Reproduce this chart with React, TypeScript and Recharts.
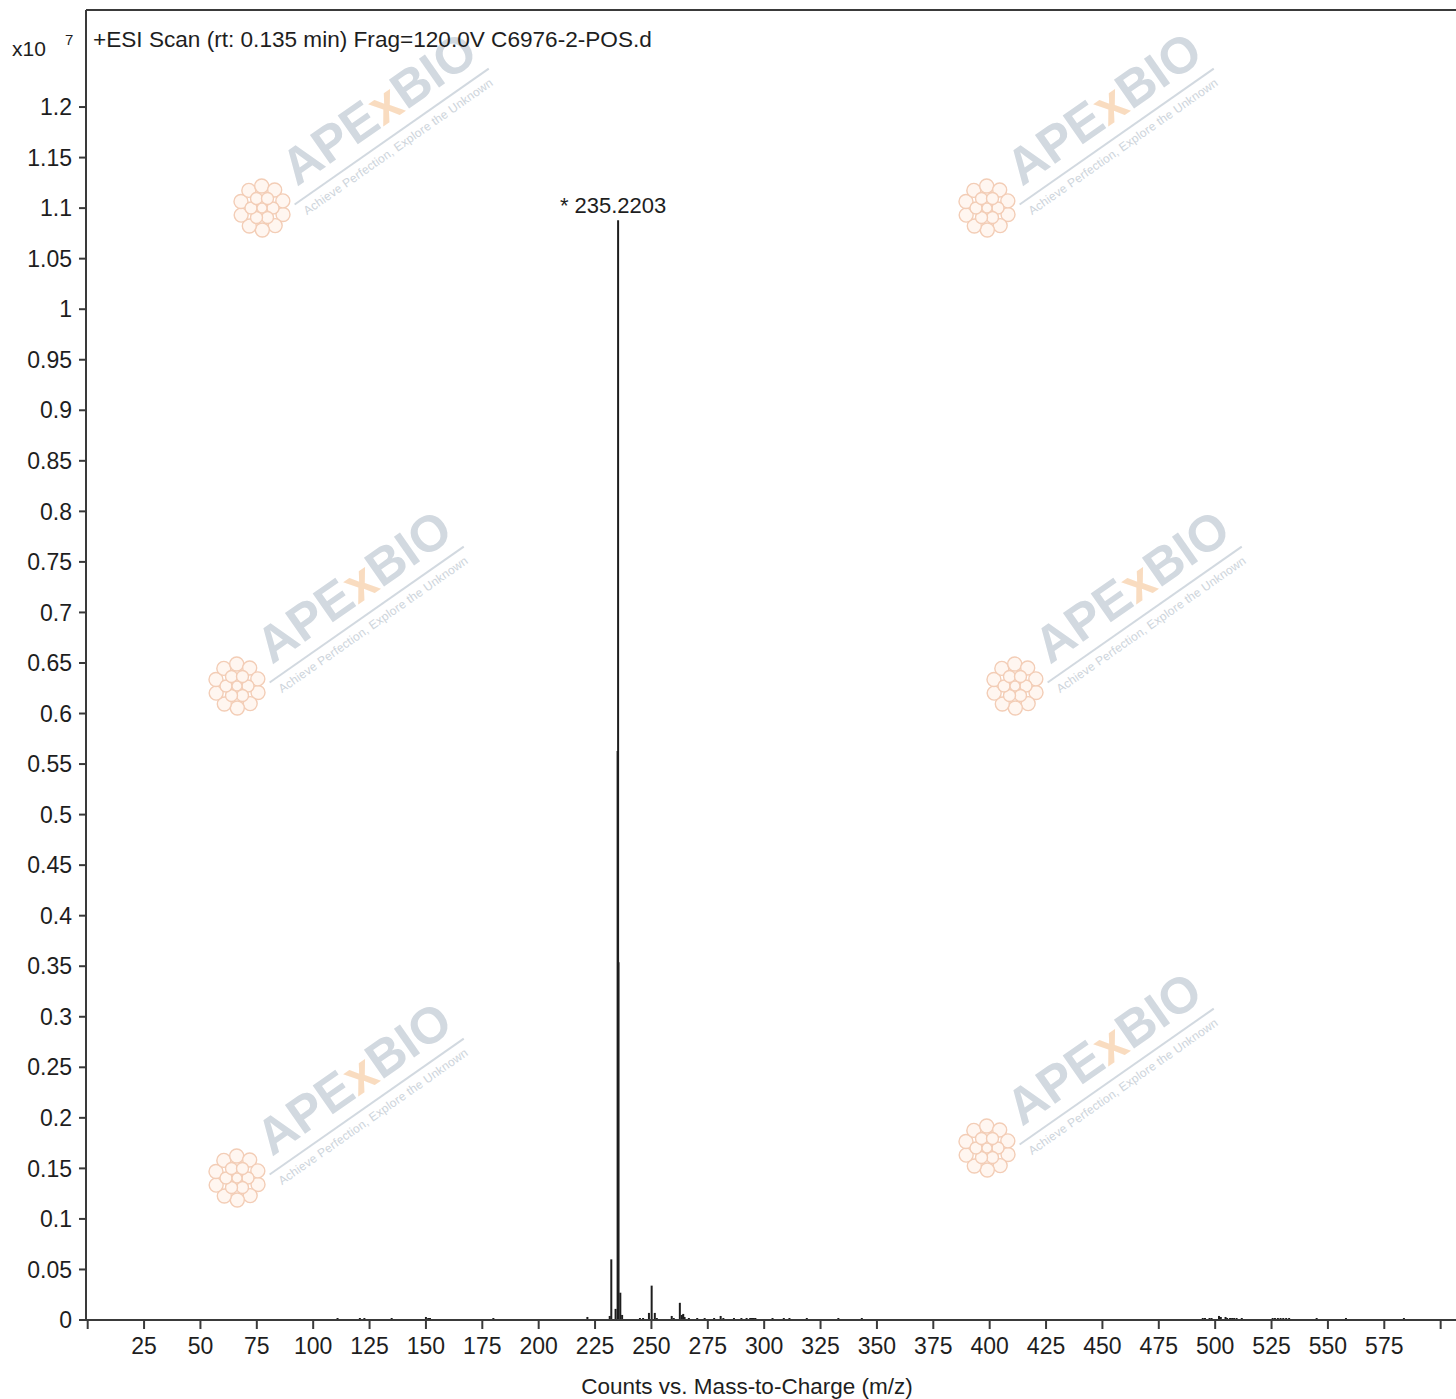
import React from 'react';
import {
  ComposedChart,
  Scatter,
  ErrorBar,
  XAxis,
  YAxis,
  ReferenceLine,
  ReferenceDot,
} from 'recharts';

// m/z of each centroid, and its counts (x10^7)
const mzValues = [
  110.8, 120.7, 122.7, 134.8, 150.0, 151.0, 151.8, 179.9, 221.6, 231.5,
  232.2, 234.1, 235.0, 235.2203, 235.4, 236.2, 237.0, 244.9, 246.3, 248.9,
  250.1, 251.5, 252.4, 259.0, 259.9, 262.6, 263.5, 264.1, 264.7, 266.6,
  270.3, 273.6, 277.8, 280.7, 281.9, 286.6, 289.9, 292.2, 293.8, 294.6,
  295.4, 296.1, 303.7, 308.7, 311.2, 318.9, 332.9, 343.3, 494.5, 495.5,
  497.5, 498.4, 501.7, 502.5, 504.6, 505.3, 506.6, 507.5, 508.4, 509.5,
  511.8, 525.5, 526.5, 527.8, 529.0, 530.2, 531.5, 532.8, 545.0, 558.0,
  583.7,
];
const countValues = [
  0.002, 0.002, 0.002, 0.002, 0.003, 0.002, 0.002, 0.002, 0.003, 0.004,
  0.060, 0.011, 0.563, 1.088, 0.354, 0.027, 0.005, 0.002, 0.002, 0.007,
  0.034, 0.007, 0.002, 0.004, 0.002, 0.017, 0.005, 0.006, 0.003, 0.002,
  0.002, 0.002, 0.002, 0.004, 0.002, 0.002, 0.002, 0.002, 0.002, 0.002,
  0.002, 0.002, 0.002, 0.002, 0.002, 0.002, 0.002, 0.002, 0.002, 0.002,
  0.002, 0.002, 0.004, 0.003, 0.003, 0.002, 0.002, 0.002, 0.002, 0.002,
  0.002, 0.002, 0.002, 0.002, 0.002, 0.002, 0.002, 0.002, 0.002, 0.002,
  0.002,
];

const xTicks = [
  0, 25, 50, 75, 100, 125, 150, 175, 200, 225, 250, 275, 300, 325, 350,
  375, 400, 425, 450, 475, 500, 525, 550, 575, 600,
];
const yTicks = [
  0, 0.05, 0.1, 0.15, 0.2, 0.25, 0.3, 0.35, 0.4, 0.45, 0.5, 0.55, 0.6,
  0.65, 0.7, 0.75, 0.8, 0.85, 0.9, 0.95, 1, 1.05, 1.1, 1.15, 1.2,
];

const basePeak = { mz: 235.2203, label: '* 235.2203' };
const title = '+ESI Scan (rt: 0.135 min) Frag=120.0V C6976-2-POS.d';
const xLabel = 'Counts vs. Mass-to-Charge (m/z)';

const X_DOMAIN: [number, number] = [-0.75, 606.8];
const Y_DOMAIN: [number, number] = [0, 1.296];

const FONT = '"Liberation Sans", Arial, sans-serif';
const INK = '#1e1e1e';
const FRAME = '#3a3a3a';

const spectrum = mzValues.map((mz, i) => ({
  mz,
  counts: countValues[i],
  drop: [countValues[i], 0],
}));

const noPoint = () => <g />;

// watermark placement (start of the "APExBIO" baseline)
const marks = [
  [297, 187],
  [1022, 187],
  [272, 665],
  [1050, 665],
  [272, 1157],
  [1022, 1127],
];

const Logo = ({ cx, cy }: { cx: number; cy: number }) => {
  const ring1 = [0, 1, 2, 3, 4, 5].map((k) => (k * Math.PI) / 3);
  const ring2 = [0, 1, 2, 3, 4, 5, 6, 7, 8, 9].map((k) => (k * Math.PI) / 5 + 0.3);
  return (
    <g stroke="#f3cdb6" strokeWidth={1.4} fill="#fff6f0">
      {ring2.map((a, i) => (
        <circle key={'o' + i} cx={cx + 22 * Math.cos(a)} cy={cy + 22 * Math.sin(a)} r={7} />
      ))}
      {ring1.map((a, i) => (
        <circle key={'i' + i} cx={cx + 11 * Math.cos(a)} cy={cy + 11 * Math.sin(a)} r={6} />
      ))}
      <circle cx={cx} cy={cy} r={5} />
    </g>
  );
};

const Watermarks = () => (
  <svg
    width={1456}
    height={1399}
    style={{ position: 'absolute', left: 0, top: 0 }}
  >
    {marks.map(([x, y], i) => (
      <g key={i}>
        <Logo cx={x - 35} cy={y + 21} />
        <g transform={`translate(${x},${y}) rotate(-35)`} fontFamily={FONT}>
          <text x={0} y={0} fontSize={51} fontWeight="bold" fill="#d2d9e0">
            APE<tspan fill="#f9dcc0">x</tspan>BIO
          </text>
          <line x1={-12} y1={13} x2={225} y2={13} stroke="#d2d9e0" strokeWidth={2} />
          <text x={-8} y={29} fontSize={12} fill="#cdd4db" textLength={228}>
            Achieve Perfection, Explore the Unknown
          </text>
        </g>
      </g>
    ))}
    <text x={93} y={47} fontFamily={FONT} fontSize={22.6} fill={INK}>
      {title}
    </text>
  </svg>
);

const ScaleLabel = ({ viewBox }: any) => (
  <g fontFamily={FONT} fill={INK}>
    <text x={viewBox.x + 12} y={viewBox.y + 46} fontSize={21}>
      x10
    </text>
    <text x={viewBox.x + 65} y={viewBox.y + 35} fontSize={15}>
      7
    </text>
  </g>
);

const PeakLabel = ({ viewBox }: any) => (
  <text
    x={viewBox.x - 5}
    y={viewBox.y - 7}
    textAnchor="middle"
    fontFamily={FONT}
    fontSize={22}
    fill={INK}
  >
    {basePeak.label}
  </text>
);

export default function App() {
  return (
    <div style={{ position: 'relative', width: 1456, height: 1399, background: '#fff' }}>
      <style>{'body{margin:0}'}</style>
      <Watermarks />
      <div style={{ position: 'absolute', left: 0, top: 0 }}>
        <ComposedChart
          width={1456}
          height={1399}
          data={spectrum}
          margin={{ top: 10, right: 0, bottom: 0, left: 0 }}
        >
          <XAxis
            dataKey="mz"
            type="number"
            domain={X_DOMAIN}
            allowDataOverflow
            ticks={xTicks}
            interval={0}
            tickFormatter={(v: number) => (v === 0 || v === 600 ? '' : String(v))}
            height={79}
            tickSize={9}
            tickMargin={9}
            axisLine={{ stroke: FRAME, strokeWidth: 2 }}
            tickLine={{ stroke: FRAME, strokeWidth: 2 }}
            tick={{ fontSize: 23, fill: INK, fontFamily: FONT }}
            label={{
              value: xLabel,
              position: 'insideBottom',
              offset: 5,
              dx: -24,
              fontSize: 22.5,
              fill: INK,
              fontFamily: FONT,
            }}
          />
          <YAxis
            type="number"
            domain={Y_DOMAIN}
            allowDataOverflow
            ticks={yTicks}
            interval={0}
            tickFormatter={(v: number) => String(v)}
            width={86}
            tickSize={7}
            tickMargin={7}
            axisLine={{ stroke: FRAME, strokeWidth: 2 }}
            tickLine={{ stroke: FRAME, strokeWidth: 2 }}
            tick={{ fontSize: 23, fill: INK, fontFamily: FONT }}
            label={{ content: <ScaleLabel /> }}
          />
          <ReferenceLine y={Y_DOMAIN[1]} stroke={FRAME} strokeWidth={2} />
          <Scatter dataKey="counts" shape={noPoint} isAnimationActive={false}>
            <ErrorBar
              dataKey="drop"
              direction="y"
              width={0}
              stroke={INK}
              strokeWidth={2}
              isAnimationActive={false}
            />
          </Scatter>
          <ReferenceDot
            x={basePeak.mz}
            y={1.088}
            r={0}
            fill="none"
            stroke="none"
            label={{ content: <PeakLabel /> }}
          />
        </ComposedChart>
      </div>
    </div>
  );
}
